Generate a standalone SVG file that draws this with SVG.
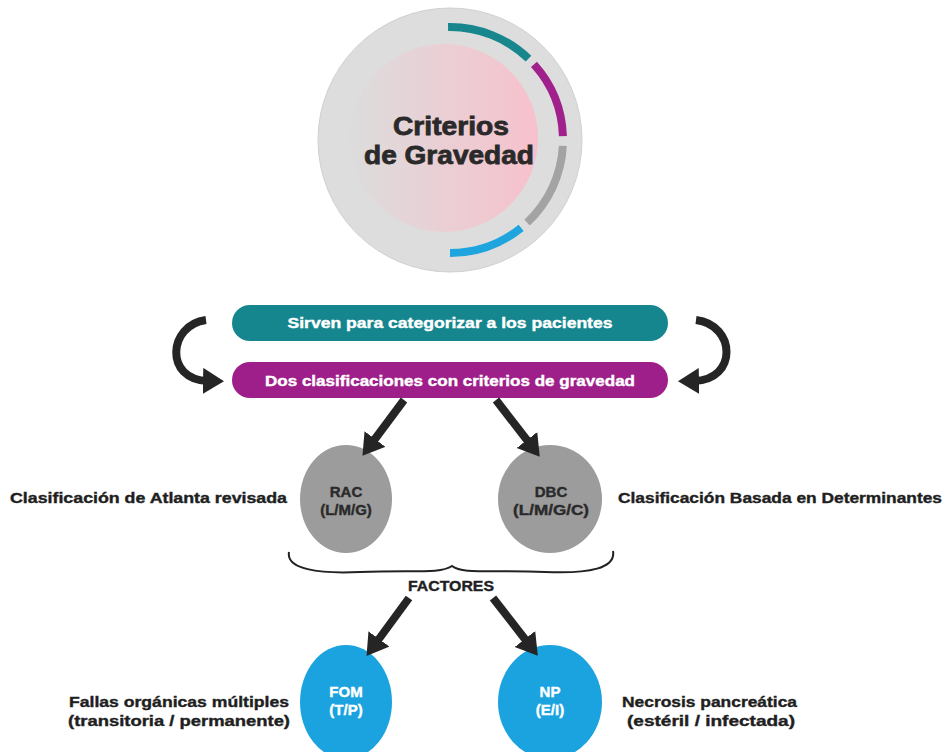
<svg xmlns="http://www.w3.org/2000/svg" width="945" height="752" viewBox="0 0 945 752">
  <defs>
    <linearGradient id="pinkGlow" x1="0" y1="0" x2="1" y2="0">
      <stop offset="0" stop-color="#dcdcdc"/>
      <stop offset="0.35" stop-color="#e6d3d7"/>
      <stop offset="1" stop-color="#f7c1cc"/>
    </linearGradient>
    <marker id="head" markerUnits="userSpaceOnUse" markerWidth="28" markerHeight="28" refX="5" refY="13" orient="auto">
      <path d="M0,0 L21,13 L0,26 Z" fill="#252525"/>
    </marker>
    <style>
      .arrow { stroke: #252525; stroke-width: 8; fill: none; }
      .ring { fill: none; stroke-width: 8; stroke-linecap: butt; }
      .title { font-family: "Liberation Sans", Arial, sans-serif; font-weight: bold; font-size: 26px; fill: #2a2a2a; stroke: #2a2a2a; stroke-width: 0.8; text-anchor: middle; }
      .pill { font-family: "Liberation Sans", Arial, sans-serif; font-weight: bold; font-size: 15px; fill: #ffffff; stroke: #ffffff; stroke-width: 0.4; text-anchor: middle; }
      .node { font-family: "Liberation Sans", Arial, sans-serif; font-weight: bold; font-size: 15px; text-anchor: middle; stroke-width: 0.4; }
      .label { font-family: "Liberation Sans", Arial, sans-serif; font-weight: bold; font-size: 15px; fill: #1f1f1f; stroke: #1f1f1f; stroke-width: 0.4; }
    </style>
  </defs>

  <rect width="945" height="752" fill="#ffffff"/>

  <!-- Title disc with segmented ring -->
  <g id="criterios">
    <circle cx="450" cy="140" r="132" fill="#dddddd" stroke="#d0d0d0" stroke-width="1"/>
    <circle cx="444" cy="138" r="94" fill="url(#pinkGlow)"/>
    <!-- teal: -91deg to -46deg -->
    <path class="ring" stroke="#17868d" d="M 448.03 27.02 A 113 113 0 0 1 528.5 58.7"/>
    <!-- magenta: -42deg to -2deg -->
    <path class="ring" stroke="#a0218b" d="M 533.98 64.39 A 113 113 0 0 1 562.93 136.06"/>
    <!-- grey: 3deg to 47deg -->
    <path class="ring" stroke="#a3a3a3" d="M 562.85 145.91 A 113 113 0 0 1 527.07 222.64"/>
    <!-- blue: 51deg to 90deg -->
    <path class="ring" stroke="#1ea5de" d="M 521.11 227.82 A 113 113 0 0 1 450 253"/>
    <text class="title" x="451" y="135" textLength="116" lengthAdjust="spacingAndGlyphs">Criterios</text>
    <text class="title" x="449" y="164" textLength="170" lengthAdjust="spacingAndGlyphs">de Gravedad</text>
  </g>

  <!-- Category banners -->
  <g id="sirven">
    <rect x="232" y="305" width="436" height="36" rx="18" fill="#15868d"/>
    <text class="pill" x="450" y="328" textLength="325" lengthAdjust="spacingAndGlyphs">Sirven para categorizar a los pacientes</text>
  </g>
  <g id="dos-clasificaciones">
    <rect x="232" y="362" width="436" height="36" rx="18" fill="#9f1f8a"/>
    <text class="pill" x="450" y="386" textLength="370" lengthAdjust="spacingAndGlyphs">Dos clasificaciones con criterios de gravedad</text>
  </g>

  <!-- Classification nodes -->
  <g id="rac">
    <ellipse cx="346" cy="499" rx="46" ry="54" fill="#9c9c9c"/>
    <text class="node" x="346" y="497" fill="#2a2a2a" stroke="#2a2a2a">RAC</text>
    <text class="node" x="346" y="515" fill="#2a2a2a" stroke="#2a2a2a">(L/M/G)</text>
    <text class="label" x="287" y="503" text-anchor="end" textLength="277" lengthAdjust="spacingAndGlyphs">Clasificación de Atlanta revisada</text>
  </g>
  <g id="dbc">
    <ellipse cx="550" cy="499" rx="52" ry="54" fill="#9c9c9c"/>
    <text class="node" x="551" y="497" fill="#2a2a2a" stroke="#2a2a2a">DBC</text>
    <text class="node" x="551" y="515" fill="#2a2a2a" stroke="#2a2a2a" textLength="76" lengthAdjust="spacingAndGlyphs">(L/M/G/C)</text>
    <text class="label" x="618" y="503" textLength="324" lengthAdjust="spacingAndGlyphs">Clasificación Basada en Determinantes</text>
  </g>

  <!-- Factor brace -->
  <g id="factores">
    <path d="M 289 552 C 286 569, 318 574, 360 572 C 415 570, 440 574, 452 566 C 462 574, 487 570, 545 572 C 590 574, 616 568, 613 551" fill="none" stroke="#222222" stroke-width="2"/>
    <text class="node" x="451" y="591" fill="#1f1f1f" stroke="#1f1f1f" font-size="13" textLength="86" lengthAdjust="spacingAndGlyphs">FACTORES</text>
  </g>

  <!-- Factor nodes -->
  <g id="fom">
    <ellipse cx="346" cy="702" rx="46" ry="57" fill="#1ba3e0"/>
    <text class="node" x="346" y="697" fill="#ffffff" stroke="#ffffff">FOM</text>
    <text class="node" x="346" y="715" fill="#ffffff" stroke="#ffffff">(T/P)</text>
    <text class="label" x="289" y="707" text-anchor="end" textLength="220" lengthAdjust="spacingAndGlyphs">Fallas orgánicas múltiples</text>
    <text class="label" x="290" y="726" text-anchor="end" textLength="222" lengthAdjust="spacingAndGlyphs">(transitoria / permanente)</text>
  </g>
  <g id="np">
    <ellipse cx="550" cy="702" rx="52" ry="57" fill="#1ba3e0"/>
    <text class="node" x="550" y="697" fill="#ffffff" stroke="#ffffff">NP</text>
    <text class="node" x="550" y="715" fill="#ffffff" stroke="#ffffff">(E/I)</text>
    <text class="label" x="622" y="707" textLength="175" lengthAdjust="spacingAndGlyphs">Necrosis pancreática</text>
    <text class="label" x="627" y="726" textLength="168" lengthAdjust="spacingAndGlyphs">(estéril / infectada)</text>
  </g>

  <!-- Connectors -->
  <g id="connectors">
    <path class="arrow" marker-end="url(#head)" d="M 206 320 C 168 325, 164 380, 208 381"/>
    <path class="arrow" marker-end="url(#head)" d="M 696 320 C 736 325, 738 380, 694 381"/>
    <line class="arrow" marker-end="url(#head)" x1="404" y1="400" x2="372" y2="443"/>
    <line class="arrow" marker-end="url(#head)" x1="496" y1="400" x2="530" y2="444"/>
    <line class="arrow" marker-end="url(#head)" x1="409" y1="598" x2="376" y2="643"/>
    <line class="arrow" marker-end="url(#head)" x1="493" y1="598" x2="528" y2="643"/>
  </g>
</svg>
